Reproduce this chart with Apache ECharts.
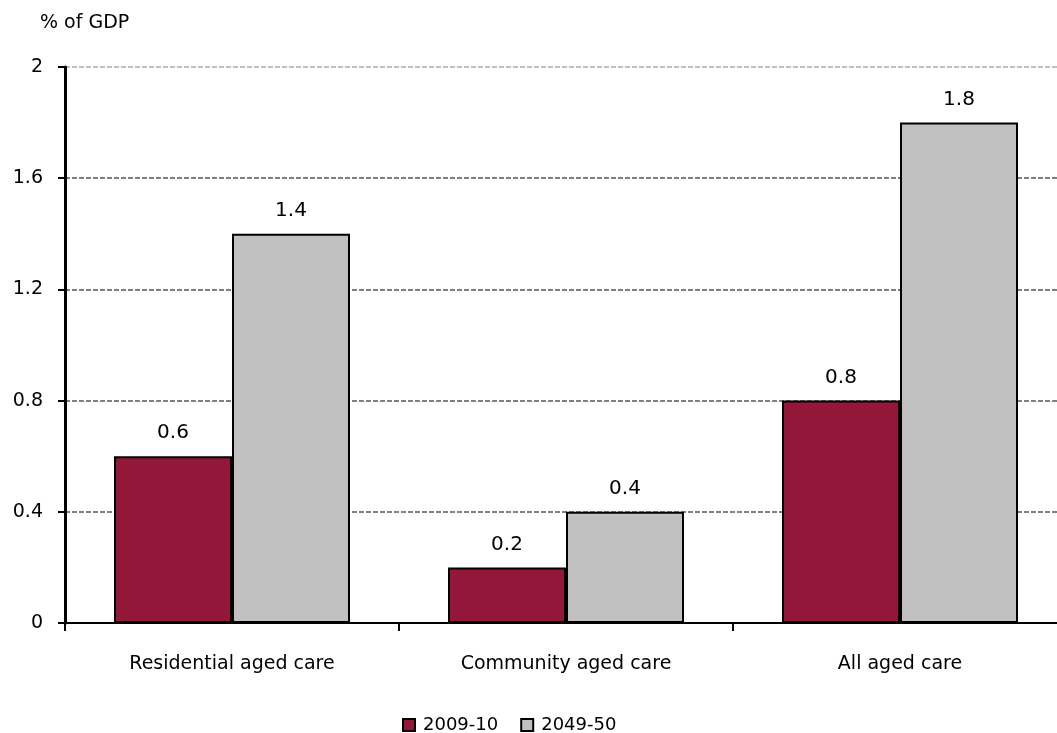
<!DOCTYPE html>
<html>
<head>
<meta charset="utf-8">
<script src="https://cdn.jsdelivr.net/npm/echarts@6/dist/echarts.min.js"></script>
<style>
  html, body { margin: 0; padding: 0; background: #fff; overflow: hidden; }
  #chart { width: 1057px; height: 733px; }
</style>
</head>
<body>
<div id="chart"></div>
<script>
// Aged care spending, share of GDP
const categories = ['Residential aged care', 'Community aged care', 'All aged care'];
const seriesNames = ['2009-10', '2049-50'];
const values2009 = [0.6, 0.2, 0.8];
const values2049 = [1.4, 0.4, 1.8];
const yTicks = [0, 0.4, 0.8, 1.2, 1.6, 2];

const FONT = '"DejaVu Sans", sans-serif';

const chart = echarts.init(document.getElementById('chart'));

const barLabel = {
  show: true,
  position: 'top',
  distance: 13,
  color: '#000',
  fontFamily: FONT,
  fontSize: 20,
  formatter: p => String(p.value)
};

chart.setOption({
  animation: false,
  textStyle: { fontFamily: FONT },
  legend: {
    top: 715,
    left: 402,
    icon: 'rect',
    itemWidth: 12,
    itemHeight: 12,
    itemGap: 22,
    padding: 0,
    itemStyle: { borderColor: '#000', borderWidth: 2 },
    textStyle: { fontFamily: FONT, fontSize: 18, color: '#000', lineHeight: 20, padding: [0, 0, 0, 3] },
    data: seriesNames
  },
  // plot area runs slightly past the right edge of the canvas
  grid: { left: 65, width: 1002, top: 67, bottom: 110, outerBoundsMode: 'none' },
  xAxis: {
    type: 'category',
    data: categories,
    axisLine: { lineStyle: { color: '#000', width: 2 } },
    axisTick: { show: true, alignWithLabel: false, length: 8, lineStyle: { color: '#000', width: 2 } },
    axisLabel: { color: '#000', fontFamily: FONT, fontSize: 19, margin: 32 },
    splitLine: { show: false }
  },
  yAxis: {
    type: 'value',
    min: yTicks[0],
    max: yTicks[yTicks.length - 1],
    interval: 0.4,
    name: '% of GDP',
    nameLocation: 'end',
    nameGap: 34,
    nameTextStyle: { color: '#000', fontFamily: FONT, fontSize: 19, align: 'left', padding: [0, 0, 0, -25] },
    axisLine: { show: true, lineStyle: { color: '#000', width: 3 } },
    axisTick: { show: true, length: 7, lineStyle: { color: '#000', width: 2 } },
    axisLabel: { color: '#000', fontFamily: FONT, fontSize: 19, margin: 22, formatter: v => String(+v.toFixed(1)) },
    splitLine: {
      show: true,
      lineStyle: {
        color: ['#808080', '#808080', '#808080', '#808080', '#808080', '#c0c0c0'],
        width: 2,
        type: [5, 2]
      }
    }
  },
  series: [
    {
      name: seriesNames[0],
      type: 'bar',
      data: values2009,
      barWidth: 118,
      barGap: '0%',
      itemStyle: { color: '#931739', borderColor: '#000', borderWidth: 2 },
      label: barLabel
    },
    {
      name: seriesNames[1],
      type: 'bar',
      data: values2049,
      barWidth: 118,
      barGap: '0%',
      itemStyle: { color: '#c0c0c0', borderColor: '#000', borderWidth: 2 },
      label: barLabel
    }
  ]
});
</script>
</body>
</html>
